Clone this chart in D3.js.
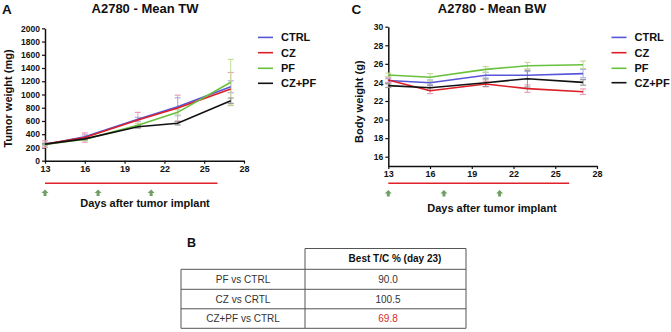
<!DOCTYPE html>
<html>
<head>
<meta charset="utf-8">
<script src="https://cdn.jsdelivr.net/npm/d3@7"></script>
<style>
  body { margin: 0; background: #fff; }
  svg { display: block; font-family: "Liberation Sans", Arial, sans-serif; }
</style>
</head>
<body>
<div id="chart"></div>
<script>
// ---- data ----
const days = [13, 16, 20, 23, 27];
const groups = ["CTRL", "CZ", "PF", "CZ+PF"];
const colors = ["#5656d8", "#dc1f26", "#68c03c", "#111111"];
const errColors = ["#a9aee6", "#eaa0b4", "#c4dd98", "#999999"];

// tumor weight (mg), mean and sem
const twMean = [
  [245, 360, 625, 815, 1117],
  [250, 350, 615, 795, 1083],
  [245, 323, 535, 730, 1185],
  [250, 330, 513, 565, 906]
];
const twSem = [
  [20, 30, 30, 135, 90],
  [50, 70, 115, 195, 250],
  [15, 20, 30, 40, 345],
  [10, 15, 20, 25, 40]
];

// body weight (g), mean and sem
const bwMean = [
  [24.2, 23.97, 24.77, 24.77, 24.95],
  [24.26, 23.1, 23.83, 23.33, 23.0],
  [24.8, 24.55, 25.4, 25.8, 25.9],
  [23.65, 23.43, 23.97, 24.4, 24.0]
];
const bwSem = [
  [0.2, 0.3, 0.3, 0.4, 0.45],
  [0.3, 0.3, 0.3, 0.4, 0.3],
  [0.2, 0.4, 0.3, 0.35, 0.4],
  [0.2, 0.3, 0.4, 0.9, 0.3]
];

const xTicks = [13, 16, 19, 22, 25, 28];
const twTicks = d3.range(0, 2001, 200);
const bwTicks = d3.range(16, 31, 2);
const treatStart = 13, treatEnd = 26;
const doseDays = [13, 17, 21];

// table B
const tableHeader = "Best T/C % (day 23)";
const tableRows = ["PF vs CTRL", "CZ vs CRTL", "CZ+PF vs CTRL"];
const tableValues = ["90.0", "100.5", "69.8"];

const W = 671, H = 332;
const svg = d3.select("#chart").append("svg")
  .attr("width", W).attr("height", H);

function panel(opt) {
  const g = svg.append("g");
  const x = d3.scaleLinear().domain([13, 28]).range(opt.xr);
  const y = d3.scaleLinear().domain(opt.yd).range(opt.yr);

  // y axis
  const ya = g.append("g")
    .attr("transform", `translate(${opt.xr[0]},0)`)
    .call(d3.axisLeft(y).tickValues(opt.yTicks).tickFormat(d3.format("d"))
      .tickSize(3).tickPadding(2).tickSizeOuter(0));
  // x axis
  const xa = g.append("g")
    .attr("transform", `translate(0,${opt.yr[0]})`)
    .call(d3.axisBottom(x).tickValues(xTicks).tickFormat(d3.format("d"))
      .tickSize(3).tickPadding(2).tickSizeOuter(0));
  [ya, xa].forEach(a => {
    a.select(".domain").attr("stroke", "#111").attr("stroke-width", 1.5);
    a.selectAll(".tick line").attr("stroke", "#111").attr("stroke-width", 1.2);
    a.selectAll(".tick text").attr("fill", "#111").attr("font-weight", "bold")
      .attr("font-size", 8.5).attr("font-family", "Liberation Sans, Arial, sans-serif");
  });
  xa.selectAll(".tick text").attr("font-size", 9);

  // error bars
  opt.mean.forEach((s, i) => {
    s.forEach((m, j) => {
      const e = opt.sem[i][j];
      const px = x(days[j]);
      g.append("line").attr("x1", px).attr("x2", px)
        .attr("y1", y(m - e)).attr("y2", y(m + e))
        .attr("stroke", errColors[i]).attr("stroke-width", 1);
      [m - e, m + e].forEach(v => {
        g.append("line").attr("x1", px - 3).attr("x2", px + 3)
          .attr("y1", y(v)).attr("y2", y(v))
          .attr("stroke", errColors[i]).attr("stroke-width", 1.2);
      });
    });
  });

  // lines
  const line = d3.line().x((d, j) => x(days[j])).y(d => y(d));
  opt.mean.forEach((s, i) => {
    g.append("path").datum(s).attr("d", line)
      .attr("fill", "none").attr("stroke", colors[i]).attr("stroke-width", 1.6);
  });

  // treatment bar and arrows
  g.append("line").attr("x1", x(treatStart)).attr("x2", x(treatEnd))
    .attr("y1", 183.3).attr("y2", 183.3)
    .attr("stroke", "#e0202a").attr("stroke-width", 1.6);
  doseDays.forEach(d => {
    const ax = x(d), ay = 189.5 + opt.arrowDy;
    g.append("path")
      .attr("d", `M${ax},${ay} L${ax + 3.5},${ay + 3.5} L${ax + 1.5},${ay + 3.5} L${ax + 1.5},${ay + 6.5} L${ax - 1.5},${ay + 6.5} L${ax - 1.5},${ay + 3.5} L${ax - 3.5},${ay + 3.5} Z`)
      .attr("fill", "#6f9f64");
  });

  // labels
  g.append("text").attr("x", opt.titleX).attr("y", 12.5)
    .attr("text-anchor", "middle").attr("font-weight", "bold").attr("font-size", 13)
    .attr("fill", "#111").text(opt.title);
  g.append("text").attr("x", opt.letterX).attr("y", 13.5)
    .attr("font-weight", "bold").attr("font-size", 13.5).attr("fill", "#111").text(opt.letter);
  g.append("text").attr("transform", `translate(${opt.ylabX},${opt.ylabY}) rotate(-90)`)
    .attr("text-anchor", "middle").attr("font-weight", "bold").attr("font-size", 11)
    .attr("fill", "#111").text(opt.ylabel);
  g.append("text").attr("x", opt.xlabX).attr("y", opt.xlabY)
    .attr("text-anchor", "middle").attr("font-weight", "bold").attr("font-size", 11)
    .attr("fill", "#111").text("Days after tumor implant");

  // legend
  groups.forEach((name, i) => {
    const ly = opt.legY[i];
    g.append("line").attr("x1", opt.legX).attr("x2", opt.legX + 15)
      .attr("y1", ly).attr("y2", ly).attr("stroke", colors[i]).attr("stroke-width", 1.6);
    g.append("text").attr("x", opt.legX + 23).attr("y", ly + 4)
      .attr("font-weight", "bold").attr("font-size", 11).attr("fill", "#111").text(name);
  });
}

panel({
  xr: [45, 244], yd: [0, 2000], yr: [160.7, 28.3], yTicks: twTicks,
  mean: twMean, sem: twSem, arrowDy: 0,
  title: "A2780 - Mean TW", titleX: 145, letter: "A", letterX: 2,
  ylabel: "Tumor weight (mg)", ylabX: 11.5, ylabY: 98.5,
  xlabX: 145, xlabY: 207,
  legX: 258, legY: [37.4, 52.7, 68.3, 83.3]
});

panel({
  xr: [388.3, 597], yd: [15, 30], yr: [166, 26.7], yTicks: bwTicks,
  mean: bwMean, sem: bwSem, arrowDy: 0.5,
  title: "A2780 - Mean BW", titleX: 492, letter: "C", letterX: 351.5,
  ylabel: "Body weight (g)", ylabX: 363, ylabY: 101.7,
  xlabX: 492, xlabY: 212,
  legX: 611.5, legY: [37.4, 52.7, 68.3, 82.7]
});

// ---- table B ----
const tb = svg.append("g");
const tL = 181, tM = 305, tR = 466;
const rowY = [248.5, 269.3, 289.3, 308.8, 328.3];
const lc = "#555";
tb.append("text").attr("x", 187).attr("y", 246.5)
  .attr("font-weight", "bold").attr("font-size", 12.5).attr("fill", "#111").text("B");
// header cell
tb.append("line").attr("x1", tM).attr("x2", tR).attr("y1", rowY[0]).attr("y2", rowY[0]).attr("stroke", lc);
tb.append("line").attr("x1", tM).attr("x2", tM).attr("y1", rowY[0]).attr("y2", rowY[4]).attr("stroke", lc);
tb.append("line").attr("x1", tR).attr("x2", tR).attr("y1", rowY[0]).attr("y2", rowY[4]).attr("stroke", lc);
tb.append("line").attr("x1", tL).attr("x2", tL).attr("y1", rowY[1]).attr("y2", rowY[4]).attr("stroke", lc);
rowY.slice(1).forEach(yy => {
  tb.append("line").attr("x1", tL).attr("x2", tR).attr("y1", yy).attr("y2", yy).attr("stroke", lc);
});
tb.append("text").attr("x", 395).attr("y", (rowY[0] + rowY[1]) / 2 + 3.5)
  .attr("text-anchor", "middle").attr("font-weight", "bold").attr("font-size", 10)
  .attr("fill", "#111").text(tableHeader);
tableRows.forEach((r, i) => {
  const cy = (rowY[i + 1] + rowY[i + 2]) / 2 + 3.5;
  tb.append("text").attr("x", 243).attr("y", cy).attr("text-anchor", "middle")
    .attr("font-size", 10).attr("fill", "#333").text(r);
  tb.append("text").attr("x", 388).attr("y", cy).attr("text-anchor", "middle")
    .attr("font-size", 10).attr("fill", i === 2 ? "#d42a2a" : "#333").text(tableValues[i]);
});
</script>
</body>
</html>
